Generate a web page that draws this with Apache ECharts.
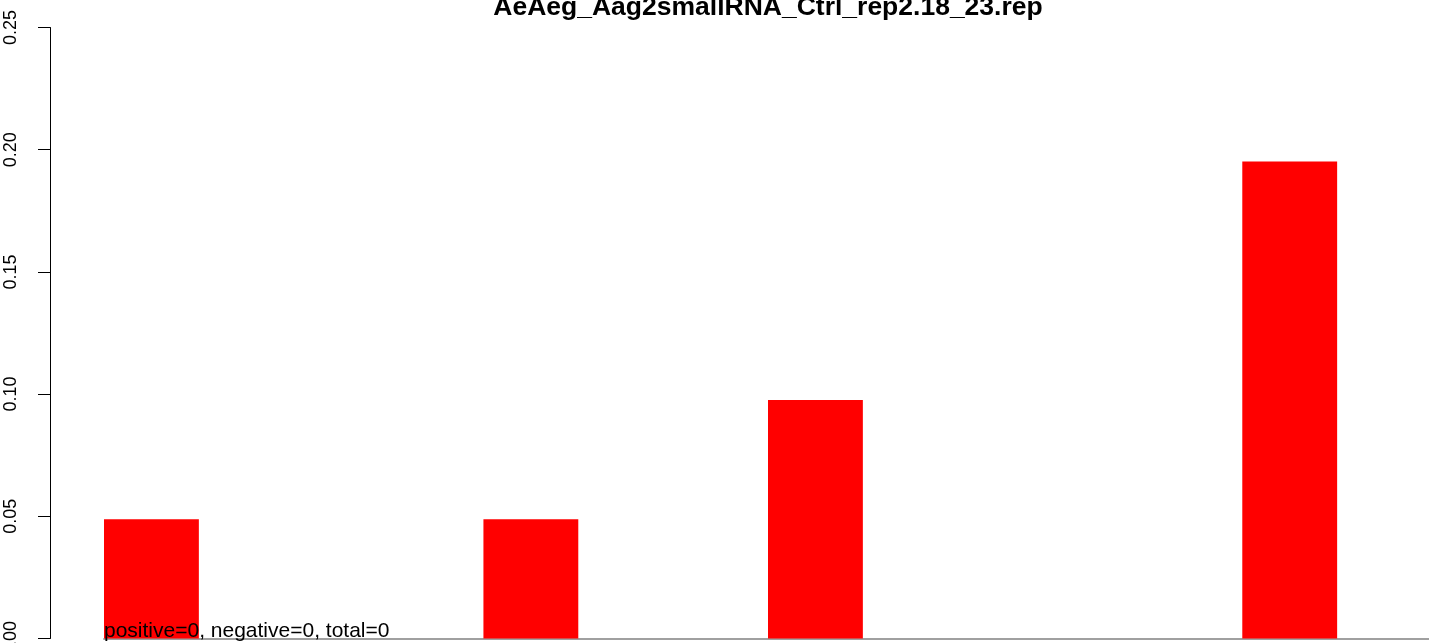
<!DOCTYPE html>
<html>
<head>
<meta charset="utf-8">
<script src="https://cdn.jsdelivr.net/npm/echarts@6/dist/echarts.min.js"></script>
<style>
  html, body { margin: 0; padding: 0; background: #ffffff; }
  #chart { width: 1429px; height: 643px; }
</style>
</head>
<body>
<div id="chart"></div>
<script>
// Bar slots along the x axis (no labels are drawn for them)
const slots = ['1', '2', '3', '4', '5', '6', '7', '8', '9', '10', '11', '12', '13', '14'];
// Fraction per slot
const values = [0.0488, 0, 0, 0, 0.0488, 0, 0, 0.0976, 0, 0, 0, 0, 0.1952, 0];
// Y axis range and step
const yTicks = [0, 0.05, 0.10, 0.15, 0.20, 0.25];
const chartTitle = 'AeAeg_Aag2smallRNA_Ctrl_rep2.18_23.rep';
const countsNote = 'positive=0, negative=0, total=0';

const FONT = '"Liberation Sans", Arial, Helvetica, sans-serif';
const GRID_LEFT = 104;
const GRID_WIDTH = 1328;

const chart = echarts.init(document.getElementById('chart'), null, { renderer: 'canvas' });

chart.setOption({
  animation: false,
  backgroundColor: '#ffffff',
  grid: {
    left: GRID_LEFT,
    width: GRID_WIDTH,
    top: 27.5,
    bottom: 4.5,
    containLabel: false,
    outerBoundsMode: 'none'
  },
  xAxis: {
    type: 'category',
    data: slots,
    boundaryGap: true,
    axisLine: { show: true, onZero: true, lineStyle: { color: '#a0a0a0', width: 2 } },
    axisTick: { show: false },
    axisLabel: { show: false },
    splitLine: { show: false }
  },
  yAxis: {
    type: 'value',
    min: yTicks[0],
    max: yTicks[yTicks.length - 1],
    interval: yTicks[1] - yTicks[0],
    offset: GRID_LEFT - 50,
    axisLine: { show: true, lineStyle: { color: '#000000', width: 1 } },
    axisTick: { show: true, inside: false, length: 12, lineStyle: { color: '#000000', width: 1 } },
    axisLabel: {
      show: true,
      rotate: 90,
      margin: 30,
      color: '#000000',
      fontFamily: FONT,
      fontSize: 18,
      formatter: v => v.toFixed(2)
    },
    splitLine: { show: false }
  },
  series: [{
    type: 'bar',
    data: values,
    barCategoryGap: '0%',
    itemStyle: { color: '#ff0000' },
    silent: true
  }],
  graphic: [
    {
      type: 'text',
      z: 100,
      x: GRID_LEFT + GRID_WIDTH / 2,
      y: 8,
      style: {
        text: chartTitle,
        fill: '#000000',
        font: 'bold 26.5px ' + FONT,
        align: 'center',
        verticalAlign: 'middle'
      }
    },
    {
      type: 'text',
      z: 100,
      x: GRID_LEFT,
      y: 631,
      style: {
        text: countsNote,
        fill: '#000000',
        font: '21px ' + FONT,
        align: 'left',
        verticalAlign: 'middle'
      }
    }
  ]
});
</script>
</body>
</html>
